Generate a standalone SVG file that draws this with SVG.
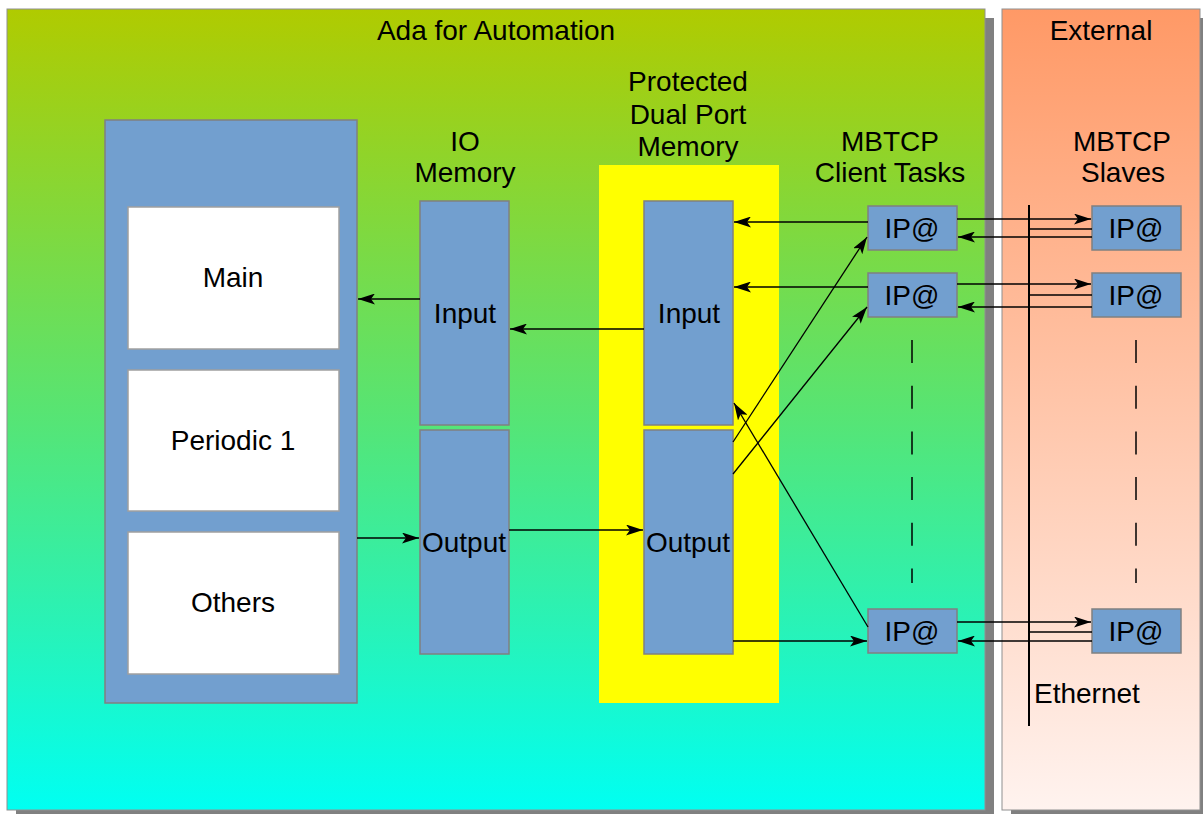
<svg xmlns="http://www.w3.org/2000/svg" width="1203" height="814" viewBox="0 0 1203 814">
  <defs>
    <linearGradient id="gAda" x1="0" y1="0" x2="0" y2="1">
      <stop offset="0" stop-color="#b0cb00"/>
      <stop offset="0.5" stop-color="#58e472"/>
      <stop offset="1" stop-color="#00fff2"/>
    </linearGradient>
    <linearGradient id="gExt" x1="0" y1="0" x2="0" y2="1">
      <stop offset="0" stop-color="#ff9966"/>
      <stop offset="1" stop-color="#fff3ef"/>
    </linearGradient>
    <marker id="arr" viewBox="0 0 17 11" refX="17" refY="5.5" markerWidth="17" markerHeight="11" markerUnits="userSpaceOnUse" orient="auto">
      <path d="M0,0 L17,5.5 L0,11 L4,5.5 Z" fill="#000"/>
    </marker>
    <style>
      text { font-family: "Liberation Sans", Arial, sans-serif; font-size: 28px; fill: #000; text-anchor: middle; }
      .shadow { fill: #808080; }
      .blue { fill: #729fcf; stroke: #808080; stroke-width: 1.5; }
      .white { fill: #ffffff; stroke: #a0a0a0; stroke-width: 1.5; }
      .conn line { stroke: #000; stroke-width: 1.3; fill: none; }
      .conn .arrow { marker-end: url(#arr); }
      .eth { stroke: #000; stroke-width: 2; }
      .dash { stroke: #000; stroke-width: 1.5; stroke-dasharray: 23 22.7; }
    </style>
  </defs>

  <rect width="1203" height="814" fill="#ffffff"/>

  <!-- Ada for Automation panel -->
  <g id="ada-panel">
    <rect class="shadow" x="16" y="18" width="978" height="800"/>
    <rect x="7" y="9" width="978" height="801" fill="url(#gAda)" stroke="#909090" stroke-width="1"/>
    <text x="496" y="40">Ada for Automation</text>
  </g>

  <!-- External panel -->
  <g id="external-panel">
    <rect class="shadow" x="1011" y="18" width="200" height="800"/>
    <rect x="1002" y="9" width="198" height="801" fill="url(#gExt)" stroke="#909090" stroke-width="1"/>
    <text x="1101" y="40">External</text>
  </g>

  <!-- Tasks -->
  <g id="tasks">
    <rect class="blue" x="105" y="120" width="252" height="583"/>
  </g>
  <g id="task-main">
    <rect class="white" x="128" y="207" width="211" height="142"/>
    <text x="233" y="287">Main</text>
  </g>
  <g id="task-periodic">
    <rect class="white" x="128" y="370" width="211" height="141"/>
    <text x="233" y="450">Periodic 1</text>
  </g>
  <g id="task-others">
    <rect class="white" x="128" y="532" width="211" height="142"/>
    <text x="233" y="612">Others</text>
  </g>

  <!-- IO Memory -->
  <g id="io-memory-label">
    <text x="465" y="151">IO</text>
    <text x="465" y="182">Memory</text>
  </g>
  <g id="io-input">
    <rect class="blue" x="420" y="201" width="89" height="224"/>
    <text x="465" y="323">Input</text>
  </g>
  <g id="io-output">
    <rect class="blue" x="420" y="430" width="89" height="224"/>
    <text x="464" y="552">Output</text>
  </g>

  <!-- Protected Dual Port Memory -->
  <g id="dpm">
    <rect x="599" y="165" width="180" height="538" fill="#ffff00"/>
    <text x="688" y="91">Protected</text>
    <text x="688" y="124">Dual Port</text>
    <text x="688" y="156">Memory</text>
  </g>
  <g id="dpm-input">
    <rect class="blue" x="644" y="201" width="89" height="224"/>
    <text x="689" y="323">Input</text>
  </g>
  <g id="dpm-output">
    <rect class="blue" x="644" y="430" width="89" height="224"/>
    <text x="688" y="552">Output</text>
  </g>

  <!-- MBTCP client tasks -->
  <g id="clients-label">
    <text x="890" y="151">MBTCP</text>
    <text x="890" y="182">Client Tasks</text>
  </g>
  <g id="client-1">
    <rect class="blue" x="868" y="206" width="89" height="44"/>
    <text x="912" y="238">IP@</text>
  </g>
  <g id="client-2">
    <rect class="blue" x="868" y="273" width="89" height="44"/>
    <text x="912" y="305">IP@</text>
  </g>
  <g id="client-n">
    <rect class="blue" x="868" y="609" width="89" height="44"/>
    <text x="912" y="641">IP@</text>
  </g>

  <!-- MBTCP slaves -->
  <g id="slaves-label">
    <text x="1122" y="151">MBTCP</text>
    <text x="1123" y="182">Slaves</text>
  </g>
  <g id="slave-1">
    <rect class="blue" x="1092" y="206" width="89" height="44"/>
    <text x="1136" y="238">IP@</text>
  </g>
  <g id="slave-2">
    <rect class="blue" x="1092" y="273" width="89" height="44"/>
    <text x="1136" y="305">IP@</text>
  </g>
  <g id="slave-n">
    <rect class="blue" x="1092" y="609" width="89" height="44"/>
    <text x="1136" y="641">IP@</text>
  </g>

  <!-- Ethernet bus -->
  <g id="ethernet">
    <line class="eth" x1="1029" y1="205" x2="1029" y2="726"/>
    <text x="1034" y="703" style="text-anchor:start">Ethernet</text>
  </g>

  <!-- Connectors -->
  <g id="connectors" class="conn">
    <!-- tasks <-> IO memory -->
    <line class="arrow" x1="420" y1="299" x2="358" y2="299"/>
    <line class="arrow" x1="357" y1="538" x2="419" y2="538"/>
    <!-- IO memory <-> dual port memory -->
    <line class="arrow" x1="644" y1="329" x2="510" y2="329"/>
    <line class="arrow" x1="509" y1="530" x2="643" y2="530"/>
    <!-- clients -> DPM input -->
    <line class="arrow" x1="868" y1="222" x2="734" y2="222"/>
    <line class="arrow" x1="868" y1="287" x2="734" y2="287"/>
    <line class="arrow" x1="868" y1="627" x2="734" y2="403"/>
    <!-- DPM output -> clients -->
    <line class="arrow" x1="733" y1="442" x2="867" y2="237"/>
    <line class="arrow" x1="733" y1="474" x2="867" y2="307"/>
    <line class="arrow" x1="733" y1="641" x2="867" y2="641"/>
    <!-- clients <-> slaves over ethernet -->
    <line class="arrow" x1="957" y1="219" x2="1091" y2="219"/>
    <line x1="1029" y1="229" x2="1092" y2="229"/>
    <line class="arrow" x1="1092" y1="237" x2="958" y2="237"/>
    <line class="arrow" x1="957" y1="284" x2="1091" y2="284"/>
    <line x1="1029" y1="295" x2="1092" y2="295"/>
    <line class="arrow" x1="1092" y1="307" x2="958" y2="307"/>
    <line class="arrow" x1="957" y1="622" x2="1091" y2="622"/>
    <line x1="1029" y1="632" x2="1092" y2="632"/>
    <line class="arrow" x1="1092" y1="641" x2="958" y2="641"/>
  </g>

  <!-- continuation marks between listed clients / slaves -->
  <g id="ellipsis">
    <line class="dash" x1="912" y1="340" x2="912" y2="583"/>
    <line class="dash" x1="1136" y1="340" x2="1136" y2="583"/>
  </g>
</svg>
